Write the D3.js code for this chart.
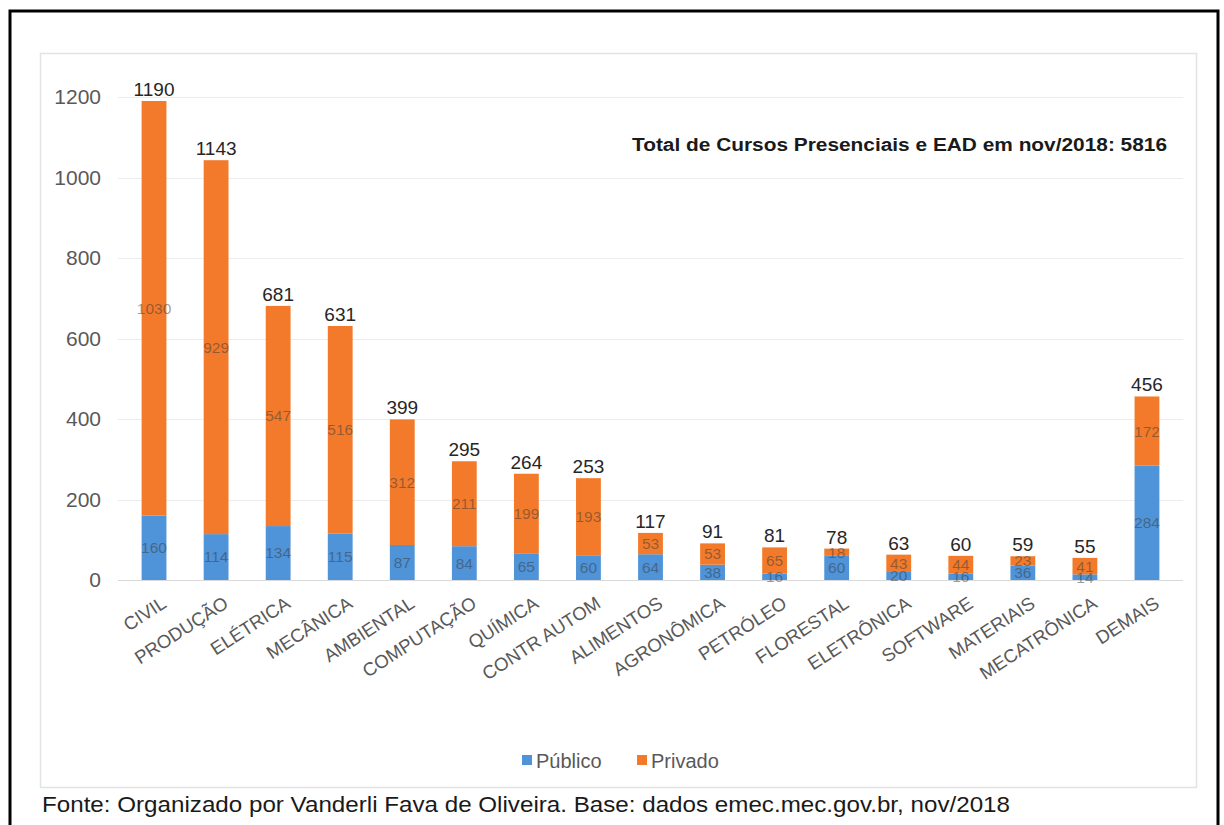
<!DOCTYPE html>
<html>
<head>
<meta charset="utf-8">
<script src="https://cdn.jsdelivr.net/npm/d3@7"></script>
<style>
  body { margin: 0; background: #fff; }
  svg { display: block; font-family: "Liberation Sans", Arial, sans-serif; }
</style>
</head>
<body>
<svg id="chart" width="1224" height="825"></svg>
<script>
// Engineering courses by specialty: public vs private offerings
const categories = ["CIVIL", "PRODUÇÃO", "ELÉTRICA", "MECÂNICA", "AMBIENTAL", "COMPUTAÇÃO",
  "QUÍMICA", "CONTR AUTOM", "ALIMENTOS", "AGRONÔMICA", "PETRÓLEO", "FLORESTAL",
  "ELETRÔNICA", "SOFTWARE", "MATERIAIS", "MECATRÔNICA", "DEMAIS"];
const publico = [160, 114, 134, 115, 87, 84, 65, 60, 64, 38, 16, 60, 20, 16, 36, 14, 284];
const privado = [1030, 929, 547, 516, 312, 211, 199, 193, 53, 53, 65, 18, 43, 44, 23, 41, 172];
const totalLabels = [1190, 1143, 681, 631, 399, 295, 264, 253, 117, 91, 81, 78, 63, 60, 59, 55, 456];
const yTicks = [0, 200, 400, 600, 800, 1000, 1200];
const seriesNames = ["Público", "Privado"];

const colors = { "Público": "#4f93d8", "Privado": "#f27a2a" };

const svg = d3.select("#chart");

// outer black frame and inner chart-area box
svg.append("rect").attr("x", 10).attr("y", 11).attr("width", 1208).attr("height", 830)
  .attr("fill", "none").attr("stroke", "#000").attr("stroke-width", 3);
svg.append("rect").attr("x", 40.5).attr("y", 53.5).attr("width", 1156).attr("height", 734)
  .attr("fill", "none").attr("stroke", "#e3e3e3").attr("stroke-width", 1.5);

const x = d3.scaleBand().domain(categories).range([123, 1178])
  .paddingInner(0.6).paddingOuter(0.3);
const y = d3.scaleLinear().domain([0, 1200]).range([580, 97]);

// horizontal gridlines
svg.append("g").selectAll("line").data(yTicks).join("line")
  .attr("x1", 118).attr("x2", 1183)
  .attr("y1", d => Math.round(y(d)) + 0.5).attr("y2", d => Math.round(y(d)) + 0.5)
  .attr("stroke", d => d === 0 ? "#d9d9d9" : "#ececec").attr("stroke-width", 1);

// y axis labels
const yAxis = svg.append("g").attr("transform", "translate(101,0)")
  .call(d3.axisLeft(y).tickValues(yTicks).tickSize(0).tickPadding(0).tickFormat(d3.format("d")));
yAxis.select(".domain").remove();
yAxis.selectAll("text").attr("font-size", 21).attr("fill", "#595959")
  .attr("font-family", "Liberation Sans, Arial, sans-serif");

// stacked data
const rows = categories.map((c, i) => ({ cat: c, "Público": publico[i], "Privado": privado[i], total: totalLabels[i] }));
const stacked = d3.stack().keys(seriesNames)(rows);

const layers = svg.append("g").selectAll("g").data(stacked).join("g")
  .attr("fill", d => colors[d.key]);
layers.selectAll("rect").data(d => d).join("rect")
  .attr("x", d => x(d.data.cat))
  .attr("width", x.bandwidth())
  .attr("y", d => y(d[1]))
  .attr("height", d => y(d[0]) - y(d[1]));

// segment value labels
const segLabels = svg.append("g").selectAll("g").data(stacked).join("g");
segLabels.selectAll("text").data(d => d.map(v => ({ v, key: d.key }))).join("text")
  .attr("x", d => x(d.v.data.cat) + x.bandwidth() / 2)
  .attr("y", d => (y(d.v[0]) + y(d.v[1])) / 2)
  .attr("dy", "0.35em")
  .attr("text-anchor", "middle")
  .attr("font-size", 15.5)
  .attr("fill", "#3a3a3a")
  .attr("fill-opacity", 0.5)
  .text(d => d.v.data[d.key]);

// total labels above bars
svg.append("g").selectAll("text").data(rows).join("text")
  .attr("x", d => x(d.cat) + x.bandwidth() / 2)
  .attr("y", d => y(d["Público"] + d["Privado"]) - 5)
  .attr("text-anchor", "middle")
  .attr("font-size", 19)
  .attr("fill", "#262626")
  .text(d => d.total);

// category axis labels, rotated
const xAxis = svg.append("g").attr("transform", "translate(0,580)")
  .call(d3.axisBottom(x).tickSize(0).tickPadding(0));
xAxis.select(".domain").remove();
xAxis.selectAll("text")
  .attr("font-size", 18.5).attr("fill", "#595959")
  .attr("font-family", "Liberation Sans, Arial, sans-serif")
  .attr("text-anchor", "end")
  .attr("x", 0).attr("y", 0).attr("dy", "0.35em")
  .attr("transform", "translate(10,21) rotate(-33)");

// annotation
svg.append("text").attr("x", 1167).attr("y", 151).attr("text-anchor", "end")
  .attr("font-size", 17.5).attr("font-weight", "bold").attr("fill", "#1a1a1a")
  .attr("textLength", 535).attr("lengthAdjust", "spacingAndGlyphs")
  .text("Total de Cursos Presenciais e EAD em nov/2018: 5816");

// legend
const legend = svg.append("g").selectAll("g").data(seriesNames).join("g")
  .attr("transform", (d, i) => `translate(${i === 0 ? 522 : 637},0)`);
legend.append("rect").attr("x", 0).attr("y", 755).attr("width", 10).attr("height", 10)
  .attr("fill", d => colors[d]);
legend.append("text").attr("x", 14).attr("y", 768).attr("font-size", 20)
  .attr("fill", "#595959").text(d => d);

// source note
svg.append("text").attr("x", 42).attr("y", 812).attr("font-size", 21.5)
  .attr("fill", "#1a1a1a")
  .attr("textLength", 968).attr("lengthAdjust", "spacingAndGlyphs")
  .text("Fonte: Organizado por Vanderli Fava de Oliveira. Base: dados emec.mec.gov.br, nov/2018");
</script>
</body>
</html>
